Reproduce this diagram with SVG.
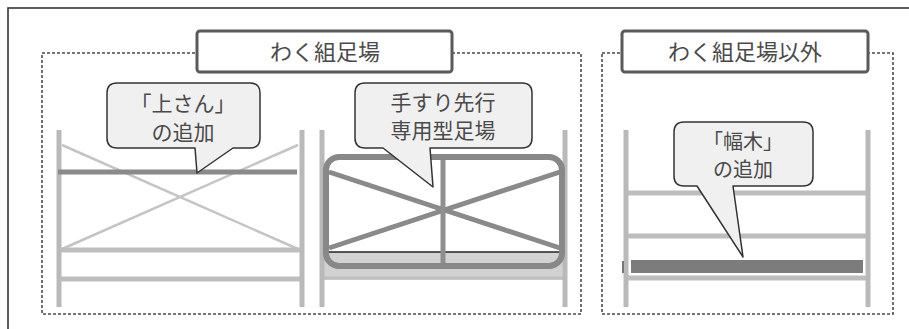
<svg xmlns="http://www.w3.org/2000/svg" width="909" height="329" viewBox="0 0 909 329">
  <style>
    .frame { fill: none; stroke: #3a3232; stroke-width: 1.6; }
    .group { fill: none; stroke: #4a4a4a; stroke-width: 1.6; stroke-dasharray: 3 2; }
    .title { fill: #ffffff; stroke: #5a5a5a; stroke-width: 3; }
    .title-text { font-family: "Noto Sans CJK JP", "Noto Sans", sans-serif; font-size: 22px; fill: #4a4a4a; text-anchor: middle; }
    .post { stroke: #b9b9b9; stroke-width: 5; }
    .bar { stroke: #bdbdbd; stroke-width: 5; }
    .brace { stroke: #c4c4c4; stroke-width: 2.5; }
    .dark { stroke: #8a8a8a; }
    .callout { fill: #f0f0f0; stroke: #333333; stroke-width: 1.5; stroke-linejoin: round; }
    .callout-text { font-family: "Noto Sans CJK JP", "Noto Sans", sans-serif; font-size: 21px; fill: #4a4a4a; text-anchor: middle; }
  </style>

  <rect width="909" height="329" fill="#ffffff"/>
  <!-- outer border (open to the right and bottom) -->
  <rect class="frame" x="8" y="8" width="940" height="360"/>

  <!-- dashed groups -->
  <g id="group-frame-scaffold">
    <rect class="group" x="42" y="53" width="539" height="261"/>
  </g>
  <g id="group-other-scaffold">
    <rect class="group" x="602" y="53" width="291" height="261"/>
  </g>

  <!-- left scaffold: frame with upper cross-bar added -->
  <g id="scaffold-left">
    <line class="brace" x1="62" y1="145" x2="298" y2="249"/>
    <line class="brace" x1="62" y1="249" x2="298" y2="145"/>
    <line class="post" x1="59" y1="130" x2="59" y2="307"/>
    <line class="post" x1="302" y1="130" x2="302" y2="307"/>
    <line class="bar" x1="60" y1="250" x2="300" y2="250"/>
    <line class="bar" x1="60" y1="279" x2="300" y2="279"/>
    <line class="bar dark" x1="58" y1="172" x2="297" y2="172"/>
  </g>

  <!-- middle scaffold: dedicated handrail-first unit -->
  <g id="scaffold-middle">
    <rect x="322" y="252" width="243" height="28" fill="#d2d2d2"/>
    <line x1="322" y1="278" x2="565" y2="278" stroke="#c0c0c0" stroke-width="3"/>
    <line class="post" x1="322" y1="130" x2="322" y2="307"/>
    <line class="post" x1="565" y1="130" x2="565" y2="307"/>
    <line x1="327" y1="252" x2="561" y2="252" stroke="#222222" stroke-width="1.3"/>
    <line x1="329" y1="172" x2="560" y2="248" stroke="#8a8a8a" stroke-width="5"/>
    <line x1="329" y1="248" x2="560" y2="172" stroke="#8a8a8a" stroke-width="5"/>
    <line x1="443" y1="157" x2="443" y2="265" stroke="#8f8f8f" stroke-width="5"/>
    <rect x="326" y="157" width="236" height="109" rx="13" fill="none" stroke="#888888" stroke-width="6"/>
  </g>

  <!-- right scaffold: toe board added -->
  <g id="scaffold-right">
    <line class="post" x1="626" y1="130" x2="626" y2="307"/>
    <line class="post" x1="868" y1="130" x2="868" y2="307"/>
    <line class="bar" x1="628" y1="193" x2="866" y2="193"/>
    <line class="bar" x1="628" y1="236" x2="866" y2="236"/>
    <line class="bar" x1="628" y1="278" x2="866" y2="278"/>
    <rect x="631" y="260" width="232" height="13" fill="#7c7c7c"/>
    <rect x="622" y="261" width="2" height="12" fill="#777777"/>
  </g>

  <!-- titles -->
  <g id="title-frame-scaffold">
    <rect class="title" x="197" y="31" width="255" height="41" rx="3"/>
    <text class="title-text" x="325" y="60">わく組足場</text>
  </g>
  <g id="title-other-scaffold">
    <rect class="title" x="622" y="31" width="246" height="41" rx="3"/>
    <text class="title-text" x="745" y="60">わく組足場以外</text>
  </g>

  <!-- callouts -->
  <g id="callout-upper-bar">
    <path class="callout" d="M117,83 H250 Q260,83 260,93 V138 Q260,148 250,148 H233 L197,173 L195,148 H117 Q107,148 107,138 V93 Q107,83 117,83 Z"/>
    <text class="callout-text" x="183" y="111">「上さん」</text>
    <text class="callout-text" x="183" y="140">の追加</text>
  </g>
  <g id="callout-handrail">
    <path class="callout" d="M365,83 H522 Q532,83 532,93 V138 Q532,148 522,148 H430 L433,187 L383,148 H365 Q355,148 355,138 V93 Q355,83 365,83 Z"/>
    <text class="callout-text" x="443" y="110">手すり先行</text>
    <text class="callout-text" x="443" y="138">専用型足場</text>
  </g>
  <g id="callout-toeboard">
    <path class="callout" d="M684,122 H803 Q813,122 813,132 V176 Q813,186 803,186 H733 L743,257 L697,186 H684 Q674,186 674,176 V132 Q674,122 684,122 Z"/>
    <text class="callout-text" x="743" y="149" style="font-size:20px">「幅木」</text>
    <text class="callout-text" x="743" y="177" style="font-size:20px">の追加</text>
  </g>
</svg>
